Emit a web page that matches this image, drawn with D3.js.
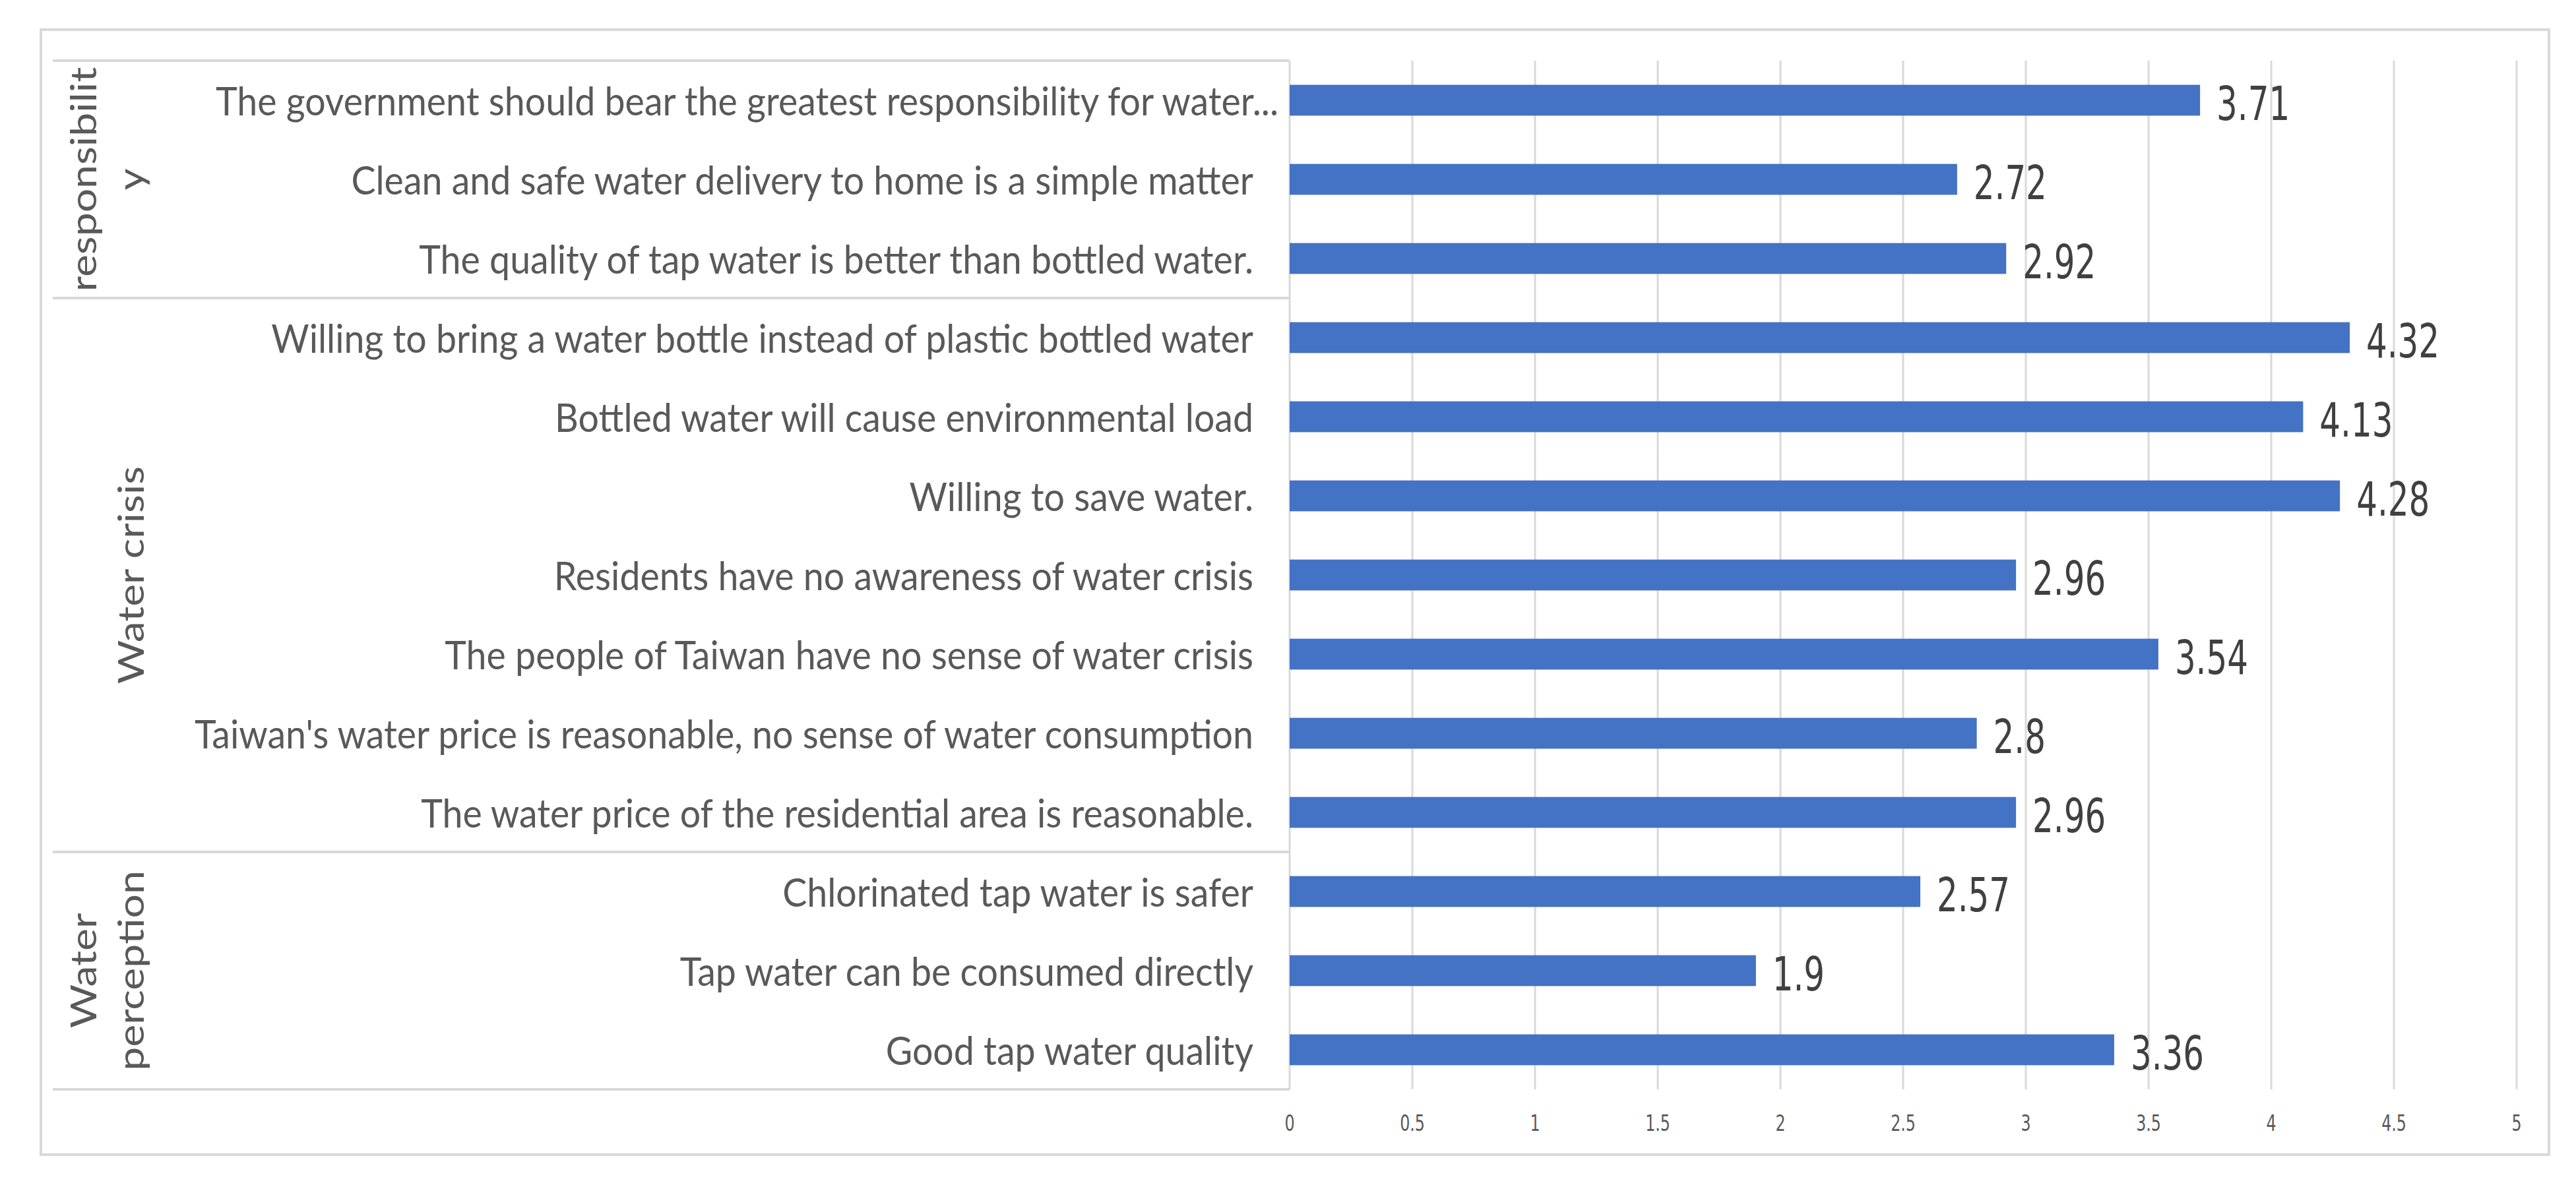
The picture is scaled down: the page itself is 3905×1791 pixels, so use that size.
<!DOCTYPE html>
<html>
<head>
<meta charset="utf-8">
<script src="https://cdn.jsdelivr.net/npm/d3@7"></script>
<style>
    html, body { margin: 0; padding: 0; background: #fff; }
    svg { display: block; }
</style>
</head>
<body>
<div id="chart"></div>
<script>
// Survey statements, top to bottom
const categories = [
    'The government should bear the greatest responsibility for water...',
    'Clean and safe water delivery to home is a simple matter',
    'The quality of tap water is better than bottled water.',
    'Willing to bring a water bottle instead of plastic bottled water',
    'Bottled water will cause environmental load',
    'Willing to save water.',
    'Residents have no awareness of water crisis',
    'The people of Taiwan have no sense of water crisis',
    "Taiwan's water price is reasonable, no sense of water consumption",
    'The water price of the residential area is reasonable.',
    'Chlorinated tap water is safer',
    'Tap water can be consumed directly',
    'Good tap water quality'
];
const values = [3.71, 2.72, 2.92, 4.32, 4.13, 4.28, 2.96, 3.54, 2.8, 2.96, 2.57, 1.9, 3.36];

// Outer category groups (rotated labels on the left)
const groupLabels = [['responsibilit', 'y'], ['Water crisis'], ['Water', 'perception']];
const groupSizes = [3, 7, 3];

const xTicks = [0, 0.5, 1, 1.5, 2, 2.5, 3, 3.5, 4, 4.5, 5];

const W = 3905, H = 1791;
const plot = { left: 1955, right: 3815, top: 92, bottom: 1652 };
const gridColor = '#d9d9d9';
const barColor = '#4472C4';
const narrowFont = '"Liberation Sans Narrow", "DejaVu Sans Condensed", sans-serif';

const svg = d3.select('#chart').append('svg')
    .attr('width', W)
    .attr('height', H);

// outer chart frame
svg.append('rect')
    .attr('x', 62).attr('y', 45)
    .attr('width', 3802).attr('height', 1706)
    .attr('fill', '#fff')
    .attr('stroke', gridColor)
    .attr('stroke-width', 4);

const x = d3.scaleLinear()
    .domain([0, 5])
    .range([plot.left, plot.right]);

const y = d3.scaleBand()
    .domain(categories)
    .range([plot.top, plot.bottom])
    .paddingInner(0.61)
    .paddingOuter(0.305);

// vertical gridlines
svg.append('g')
    .selectAll('line')
    .data(xTicks)
    .join('line')
    .attr('x1', d => x(d)).attr('x2', d => x(d))
    .attr('y1', plot.top).attr('y2', plot.bottom)
    .attr('stroke', gridColor)
    .attr('stroke-width', 3);

// tick labels under the plot (squeezed like the original narrow font)
svg.append('g')
    .selectAll('text')
    .data(xTicks)
    .join('text')
    .attr('transform', d => `translate(${x(d)},${plot.bottom + 51}) scale(0.8,1)`)
    .attr('text-anchor', 'middle')
    .attr('dominant-baseline', 'central')
    .attr('font-family', narrowFont)
    .attr('font-size', 33)
    .attr('fill', '#595959')
    .text(d => d3.format('')(d));

// group table lines on the left
const step = y.step();
let boundaries = [0];
groupSizes.forEach(n => boundaries.push(boundaries[boundaries.length - 1] + n));
svg.append('g')
    .selectAll('line')
    .data(boundaries)
    .join('line')
    .attr('x1', 80).attr('x2', plot.left)
    .attr('y1', d => plot.top + d * step)
    .attr('y2', d => plot.top + d * step)
    .attr('stroke', gridColor)
    .attr('stroke-width', 4);

// rotated group labels (stretched along their length, as in the original)
groupLabels.forEach((lines, i) => {
    const cy = plot.top + (boundaries[i] + boundaries[i + 1]) / 2 * step;
    const xs = lines.length === 1 ? [197] : [125, 197];
    lines.forEach((line, j) => {
        svg.append('text')
            .attr('transform', `translate(${xs[j]},${cy}) rotate(-90) scale(1.19,1)`)
            .attr('text-anchor', 'middle')
            .attr('dominant-baseline', 'central')
            .attr('font-family', 'Lato, sans-serif')
            .attr('font-size', 54)
            .attr('fill', '#595959')
            .text(line);
    });
});

// category labels
svg.append('g')
    .selectAll('text')
    .data(categories)
    .join('text')
    .attr('transform', d => `translate(${d.endsWith('...') ? 1938 : 1900},${y(d) + y.bandwidth() / 2}) scale(0.925,1)`)
    .attr('text-anchor', 'end')
    .attr('dominant-baseline', 'central')
    .attr('font-family', 'Lato, sans-serif')
    .attr('font-size', 60)
    .attr('fill', '#595959')
    .text(d => d);

// bars
svg.append('g')
    .selectAll('rect')
    .data(values)
    .join('rect')
    .attr('x', x(0))
    .attr('y', (d, i) => y(categories[i]))
    .attr('width', d => x(d) - x(0))
    .attr('height', y.bandwidth())
    .attr('fill', barColor);

// value labels
svg.append('g')
    .selectAll('text')
    .data(values)
    .join('text')
    .attr('transform', (d, i) => `translate(${x(d) + 25},${y(categories[i]) + y.bandwidth() / 2 + 5}) scale(0.77,1)`)
    .attr('dominant-baseline', 'central')
    .attr('font-family', narrowFont)
    .attr('font-size', 72)
    .attr('fill', '#404040')
    .text(d => d);
</script>
</body>
</html>
